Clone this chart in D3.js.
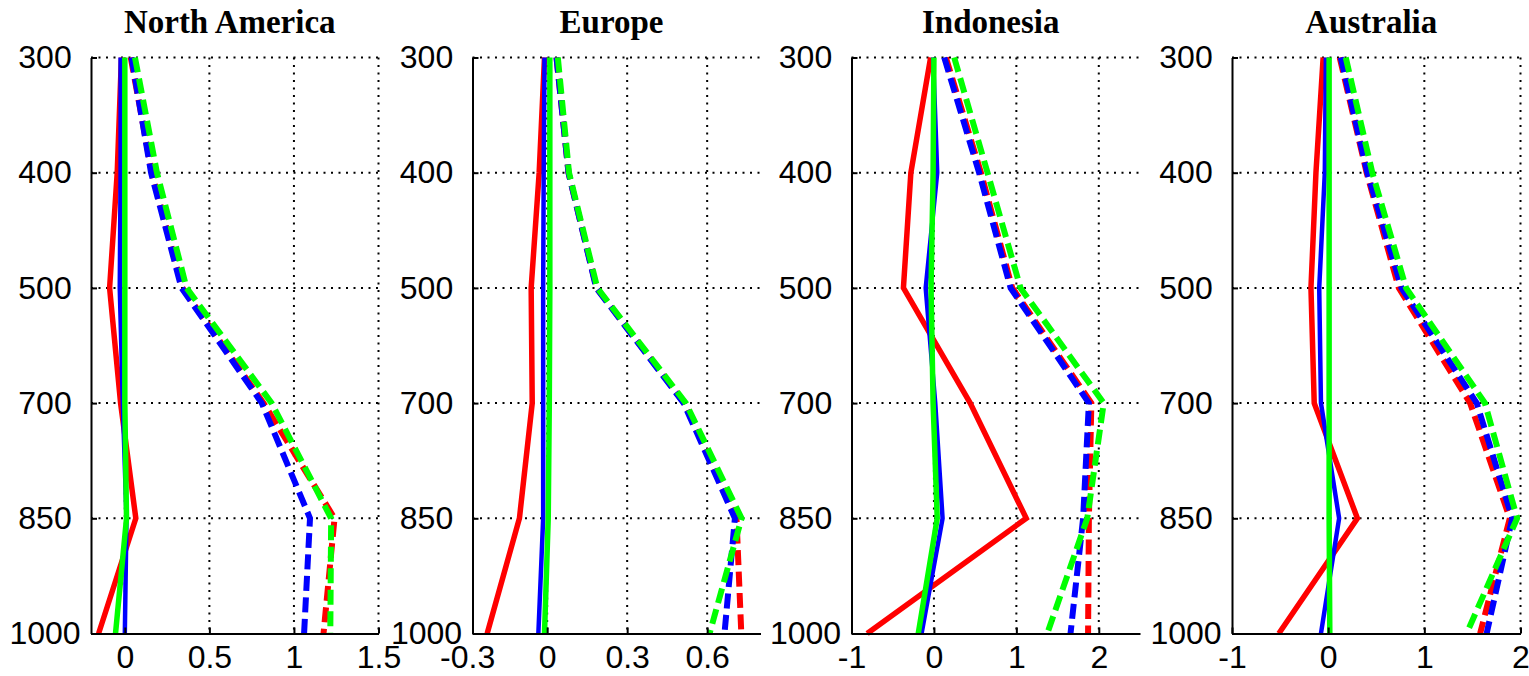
<!DOCTYPE html>
<html>
<head>
<meta charset="utf-8">
<script src="https://cdn.jsdelivr.net/npm/d3@7"></script>
<style>
  body { margin: 0; background: #fff; }
  .tick text { font-family: "Liberation Sans", Arial, sans-serif; font-size: 32px; fill: #000; }
  .title { font-family: "Liberation Serif", "Times New Roman", serif; font-weight: bold; font-size: 33px; }
</style>
</head>
<body>
<div id="chart"></div>
<script>
var svgWidth = 1529;
var svgHeight = 676;

// pressure levels (hPa), drawn equally spaced
var levels = [300, 400, 500, 700, 850, 1000];
var regions = ["North America", "Europe", "Indonesia", "Australia"];
var colors = ["#ff0000", "#0000ff", "#00ff00"];

// x limits and ticks per panel
var xDomains = [[-0.2, 1.5], [-0.28, 0.8], [-1, 2.5], [-1, 2]];
var xTicks = [[0, 0.5, 1, 1.5], [-0.3, 0, 0.3, 0.6], [-1, 0, 1, 2], [-1, 0, 1, 2]];

// each region: red, blue, green values at each level
var naSolid = [
    [-0.02, -0.045, -0.09, -0.025, 0.065, -0.155],
    [-0.025, -0.025, -0.03, -0.012, 0.01, 0.0],
    [0.0, 0.0, 0.0, 0.0, 0.01, -0.055]
];
var naDashed = [
    [0.035, 0.16, 0.34, 0.82, 1.24, 1.175],
    [0.04, 0.155, 0.335, 0.81, 1.095, 1.06],
    [0.06, 0.19, 0.365, 0.868, 1.22, 1.215]
];
var euSolid = [
    [-0.01, -0.03, -0.06, -0.056, -0.104, -0.225],
    [-0.01, -0.013, -0.015, -0.015, -0.015, -0.033],
    [0.01, 0.01, 0.01, 0.008, 0.004, -0.01]
];
var euDashed = [
    [0.035, 0.08, 0.185, 0.515, 0.71, 0.728],
    [0.035, 0.08, 0.184, 0.512, 0.704, 0.665],
    [0.04, 0.082, 0.188, 0.52, 0.729, 0.609]
];
var inSolid = [
    [-0.04, -0.28, -0.37, 0.44, 1.12, -0.81],
    [-0.01, 0.04, -0.1, 0.016, 0.105, -0.15],
    [0.0, -0.01, -0.035, -0.01, 0.04, -0.19]
];
var inDashed = [
    [0.145, 0.57, 0.95, 1.91, 1.88, 1.87],
    [0.125, 0.548, 0.93, 1.88, 1.81, 1.657],
    [0.246, 0.65, 1.05, 2.06, 1.86, 1.375]
];
var auSolid = [
    [-0.052, -0.127, -0.179, -0.145, 0.304, -0.513],
    [-0.024, -0.035, -0.093, -0.075, 0.114, -0.075],
    [0.01, 0.01, 0.01, 0.01, 0.01, 0.017]
];
var auDashed = [
    [0.12, 0.4, 0.734, 1.476, 1.889, 1.58],
    [0.131, 0.407, 0.762, 1.545, 1.914, 1.648],
    [0.183, 0.459, 0.81, 1.63, 1.965, 1.44]
];

var solids = [naSolid, euSolid, inSolid, auSolid];
var dashes = [naDashed, euDashed, inDashed, auDashed];

var panelLeft = [91, 472.5, 851.5, 1232];
var panelWidth = [287.5, 288, 288.5, 288.5];
var plotTop = 57.5, plotBottom = 633.5;

var svg = d3.select("#chart")
    .append("svg")
    .attr("width", svgWidth)
    .attr("height", svgHeight);

var y = d3.scalePoint()
    .domain(levels)
    .range([plotTop, plotBottom]);

regions.forEach(function(name, i) {
    var x0 = panelLeft[i], x1 = panelLeft[i] + panelWidth[i];
    var x = d3.scaleLinear().domain(xDomains[i]).range([x0, x1]);
    var g = svg.append("g");
    var inside = d => d > xDomains[i][0] - 1e-9 && d <= xDomains[i][1] + 1e-9;

    // dotted grid
    g.selectAll("line.hgrid")
        .data(levels.slice(0, -1))
        .enter().append("line")
        .attr("x1", x0).attr("x2", x1)
        .attr("y1", d => y(d)).attr("y2", d => y(d))
        .attr("stroke", "#000").attr("stroke-width", 2)
        .attr("stroke-dasharray", "2,5.5");

    g.selectAll("line.vgrid")
        .data(xTicks[i].filter(d => d > xDomains[i][0] + 1e-9 && d <= xDomains[i][1] + 1e-9))
        .enter().append("line")
        .attr("x1", d => x(d)).attr("x2", d => x(d))
        .attr("y1", plotTop).attr("y2", plotBottom)
        .attr("stroke", "#000").attr("stroke-width", 2)
        .attr("stroke-dasharray", "2,5.5");

    var line = d3.line()
        .x(d => x(d.v))
        .y(d => y(d.p));

    solids[i].forEach(function(vals, k) {
        g.append("path")
            .datum(levels.map((p, j) => ({p: p, v: vals[j]})))
            .attr("d", line)
            .attr("fill", "none")
            .attr("stroke", colors[k])
            .attr("stroke-width", k == 1 ? 4.5 : 5.5);
    });

    dashes[i].forEach(function(vals, k) {
        g.append("path")
            .datum(levels.map((p, j) => ({p: p, v: vals[j]})))
            .attr("d", line)
            .attr("fill", "none")
            .attr("stroke", colors[k])
            .attr("stroke-width", 6)
            .attr("stroke-dasharray", "15,6.5");
    });

    // axes
    var bottomAxis = d3.axisBottom(x)
        .tickValues(xTicks[i])
        .tickFormat(d => String(d))
        .tickSizeInner(-6)
        .tickSizeOuter(0)
        .tickPadding(12);

    var leftAxis = d3.axisLeft(y)
        .tickSizeInner(-6)
        .tickSizeOuter(0)
        .tickPadding(0);

    var bx = g.append("g")
        .attr("transform", `translate(0, ${plotBottom})`)
        .call(bottomAxis);
    bx.select(".domain").attr("stroke-width", 2);
    bx.selectAll(".tick line")
        .attr("stroke-width", 2)
        .attr("display", d => inside(d) ? null : "none");

    var ly = g.append("g")
        .attr("transform", `translate(${x0}, 0)`)
        .call(leftAxis);
    ly.select(".domain").attr("stroke-width", 2);
    ly.selectAll(".tick line").attr("stroke-width", 2);
    ly.selectAll(".tick text")
        .attr("text-anchor", "middle")
        .attr("x", -46);

    g.append("text")
        .attr("class", "title")
        .attr("x", (x0 + x1) / 2 - 5)
        .attr("y", 33)
        .attr("text-anchor", "middle")
        .text(name);
});
</script>
</body>
</html>
